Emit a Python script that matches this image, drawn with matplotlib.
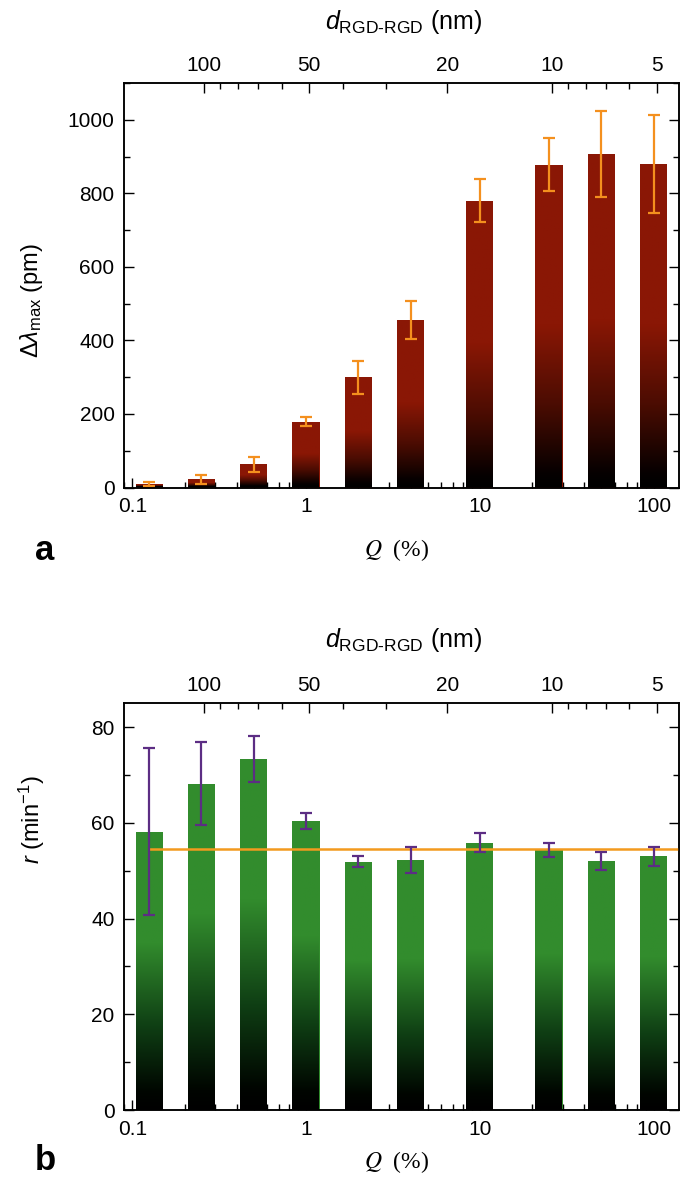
import numpy as np
import matplotlib
matplotlib.use('Agg')
import matplotlib.pyplot as plt
from matplotlib.colors import LinearSegmentedColormap
from matplotlib.ticker import FixedLocator, NullFormatter, LogLocator, MultipleLocator, FuncFormatter

# ---- data ----
Q = [0.125, 0.25, 0.5, 1, 2, 4, 10, 25, 50, 100]          # Q (%)
shift = [9.5, 22, 63, 179, 300, 456, 780, 878, 907, 880]    # delta lambda max (pm)
shift_err = [4.5, 13, 20, 12, 45, 51, 59, 73, 116, 134]
rate = [58.2, 68.2, 73.4, 60.4, 51.9, 52.3, 55.9, 54.3, 52.1, 53.0]  # r (min^-1)
rate_err = [17.4, 8.7, 4.8, 1.7, 1.2, 2.7, 2.0, 1.5, 1.9, 2.0]
rate_mean = 54.6
d_ticks = [100, 50, 20, 10, 5]           # d_RGD-RGD (nm)
q_ticks = [0.1, 1, 10, 100]
K = 51.0                                  # d = K / sqrt(Q)
xlim = (0.09, 140)

plt.rcParams['font.family'] = ['Liberation Sans', 'DejaVu Sans']
plt.rcParams['mathtext.fontset'] = 'custom'
plt.rcParams['mathtext.rm'] = 'Liberation Sans'
plt.rcParams['mathtext.it'] = 'Liberation Sans:italic'
plt.rcParams['mathtext.bf'] = 'Liberation Sans:bold'

fig = plt.figure(figsize=(6.85, 11.9), dpi=100)
W, H = 685.0, 1190.0

def fx(x):
    return x / W

def fy(y):
    return 1 - y / H

axA = fig.add_axes([fx(124.3), fy(487.5), fx(679) - fx(124.3), fy(83) - fy(487.5)])
axB = fig.add_axes([fx(124.3), fy(1110), fx(679) - fx(124.3), fy(703.3) - fy(1110)])

red = '#8a1705'
green = '#328c2d'
cmap_red = LinearSegmentedColormap.from_list(
    'r', [(0, 'black'), (0.04, '#060000'), (0.25, '#4a0c02'), (0.5, red), (1, red)])
cmap_green = LinearSegmentedColormap.from_list(
    'g', [(0, 'black'), (0.06, '#000500'), (0.3, '#0f3f14'), (0.6, green), (1, green)])

half = 0.078
lefts = [q * 10 ** -half for q in Q]
widths = [q * 10 ** half - q * 10 ** -half for q in Q]


def grad_bars(ax, heights, color, cmap):
    bars = ax.bar(lefts, heights, width=widths, align='edge', color=color, linewidth=0, zorder=1)
    grad = np.linspace(0, 1, 256).reshape(-1, 1)
    for b in bars:
        x0, w, h = b.get_x(), b.get_width(), b.get_height()
        im = ax.imshow(grad, extent=[x0, x0 + w, 0, h], origin='lower', aspect='auto',
                       cmap=cmap, zorder=1.5, interpolation='bilinear')
        im.set_clip_path(b)
    return bars


def style(ax, ylim, major, minor):
    ax.set_xscale('log')
    ax.set_xlim(*xlim)
    ax.set_ylim(*ylim)
    ax.set_axisbelow(True)
    ax.xaxis.set_major_locator(FixedLocator(q_ticks))
    ax.xaxis.set_major_formatter(FuncFormatter(lambda v, p: '%g' % v))
    ax.xaxis.set_minor_locator(LogLocator(subs=np.arange(2, 10)))
    ax.xaxis.set_minor_formatter(NullFormatter())
    ax.yaxis.set_major_locator(MultipleLocator(major))
    ax.yaxis.set_minor_locator(MultipleLocator(minor))
    ax.tick_params(which='both', direction='in', top=False, right=True, labelsize=15, width=1)
    ax.tick_params(which='major', length=7, pad=7)
    ax.tick_params(which='minor', length=4)
    for s in ax.spines.values():
        s.set_linewidth(1.1)
    axT = ax.twiny()
    axT.set_xscale('log')
    axT.set_xlim(K / np.sqrt(xlim[0]), K / np.sqrt(xlim[1]))
    axT.xaxis.set_major_locator(FixedLocator(d_ticks))
    axT.xaxis.set_major_formatter(FuncFormatter(lambda v, p: '%g' % v))
    axT.xaxis.set_minor_locator(LogLocator(subs=np.arange(2, 10)))
    axT.xaxis.set_minor_formatter(NullFormatter())
    axT.tick_params(which='both', direction='in', labelsize=15, width=1)
    axT.tick_params(which='major', length=7, pad=6)
    axT.tick_params(which='minor', length=4)
    for s in axT.spines.values():
        s.set_linewidth(1.1)
    return axT

# ---- panel a ----
grad_bars(axA, shift, red, cmap_red)
axA.errorbar(Q, shift, yerr=shift_err, fmt='none', ecolor='#f4901e', elinewidth=1.6,
             capsize=4.5, capthick=1.6, zorder=3)
style(axA, (0, 1100), 200, 100)

# ---- panel b ----
grad_bars(axB, rate, green, cmap_green)
axB.errorbar(Q, rate, yerr=rate_err, fmt='none', ecolor='#5c2d84', elinewidth=1.6,
             capsize=4.5, capthick=1.6, zorder=3)
axB.plot([Q[0], xlim[1]], [rate_mean, rate_mean], color='#f39a1e', lw=1.8, zorder=2.8)
style(axB, (0, 85), 20, 10)

# ---- labels ----
dlab = r'$d_{\mathrm{RGD}\text{-}\mathrm{RGD}}$ (nm)'
fig.text(fx(404), fy(22), dlab, ha='center', va='center', fontsize=18)
fig.text(fx(404), fy(640), dlab, ha='center', va='center', fontsize=18)
fig.text(fx(397), fy(550), r'$Q$  (%)', ha='center', va='center', fontsize=17,
         family='Liberation Serif', math_fontfamily='stix')
fig.text(fx(397), fy(1162), r'$Q$  (%)', ha='center', va='center', fontsize=17,
         family='Liberation Serif', math_fontfamily='stix')
fig.text(fx(32), fy(300), r'$\Delta\lambda_{\mathrm{max}}$ (pm)', ha='center', va='center',
         rotation=90, fontsize=17)
fig.text(fx(32), fy(820), r'$r$ (min$^{-1}$)', ha='center', va='center',
         rotation=90, fontsize=17)
fig.text(fx(45), fy(550), 'a', ha='center', va='center', fontsize=25, fontweight='bold')
fig.text(fx(45), fy(1160), 'b', ha='center', va='center', fontsize=25, fontweight='bold')

fig.savefig('out.png', dpi=100)
